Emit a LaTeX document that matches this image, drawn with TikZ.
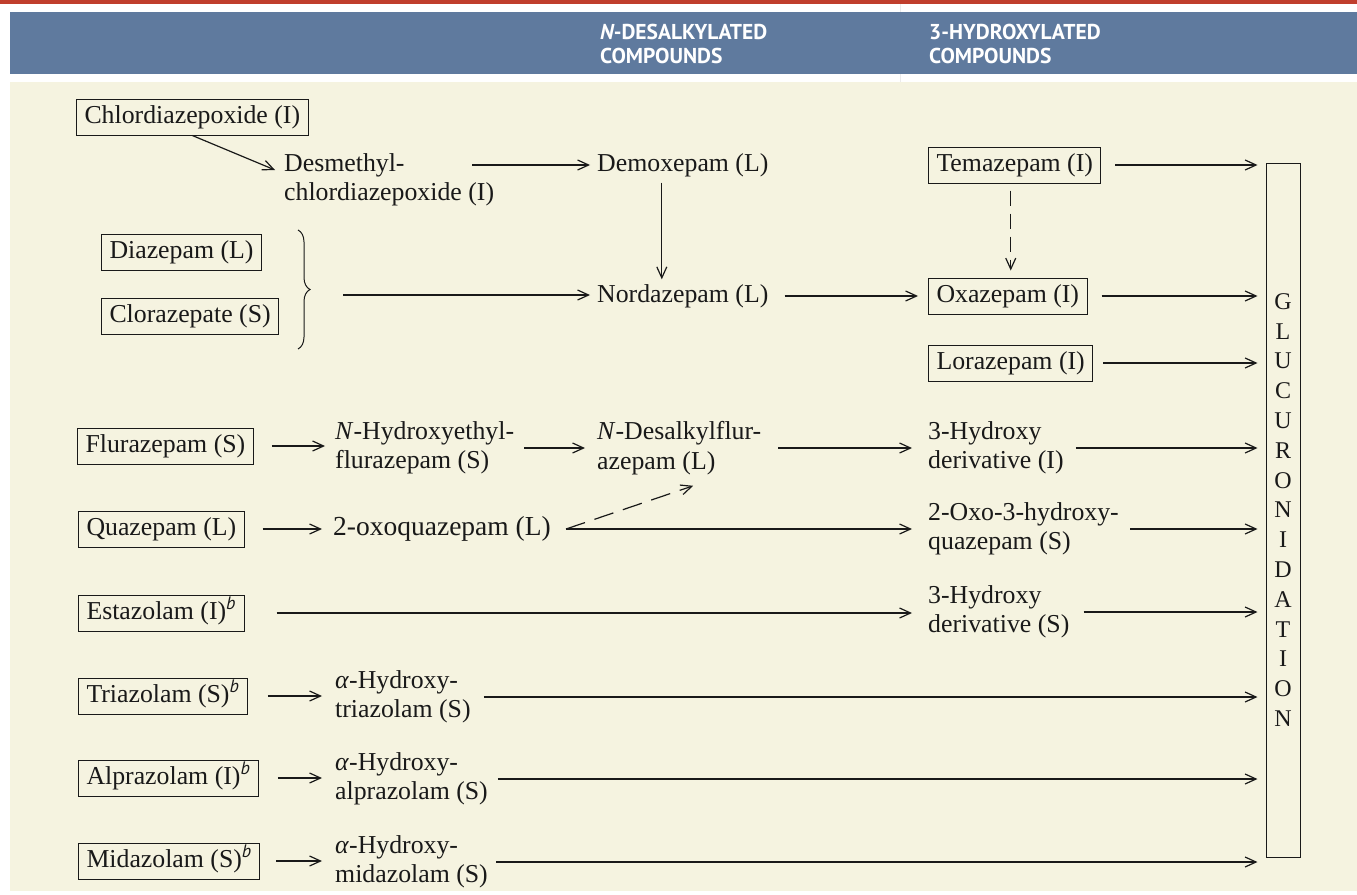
\documentclass[tikz,border=0pt]{standalone}
\usepackage{fontspec}
\setmainfont{Liberation Serif}
\newfontfamily\hdrfont{PT Sans}
\usetikzlibrary{arrows.meta,decorations.pathreplacing,calc}
\definecolor{cream}{RGB}{245,243,224}
\definecolor{hblue}{RGB}{95,122,158}
\definecolor{hred}{RGB}{192,62,45}
\definecolor{ink}{RGB}{25,25,25}
\begin{document}
\begin{tikzpicture}[x=1pt,y=-1pt,
  every node/.style={font=\fontsize{25.8}{29.5}\selectfont, text=ink},
  box/.style={draw=ink, line width=1pt, inner xsep=8pt, inner ysep=6.5pt, text height=17.5pt, text depth=5.5pt, anchor=west},
  lbl/.style={inner sep=0pt, anchor=west, text height=17.5pt, text depth=5.5pt},
  lbl2/.style={inner sep=0pt, anchor=west, align=left},
  arr/.style={draw=ink, line width=1.2pt, -{Straight Barb[length=11pt,width=10pt,line width=1.2pt]}},
  darr/.style={arr, dash pattern=on 15pt off 8pt},
  hdr/.style={font=\hdrfont\bfseries\fontsize{21.5}{23.5}\selectfont, text=white, inner sep=0pt, anchor=north west, align=left}
]
\fill[white] (0,0) rectangle (1357,894);
\useasboundingbox (0,0) rectangle (1357,894);
\fill[hred] (0,0) rectangle (1357,4);
\fill[hblue] (10,12) rectangle (1357,74);
\fill[cream] (10,82) rectangle (1357,891);
\draw[black!8, line width=0.6pt] (900,4) -- (900,12) (900,74) -- (900,82);

\node[hdr] (h1) at (600,24) {{\itshape N}-DESALKYLATED\\COMPOUNDS};
\node[hdr] (h2) at (929,24) {3-HYDROXYLATED\\COMPOUNDS};

\node[box] (chl) at (76,117) {Chlordiazepoxide (I)};
\node[lbl2] (desm) at (284,180) {Desmethyl-\\chlordiazepoxide (I)};
\node[lbl] (demox) at (597,165) {Demoxepam (L)};
\node[box] (diaz) at (101,252) {Diazepam (L)};
\node[box] (cloraz) at (101,316) {Clorazepate (S)};
\node[lbl] (nord) at (597,296) {Nordazepam (L)};
\node[box] (tema) at (928,165) {Temazepam (I)};
\node[box] (oxa) at (928,296) {Oxazepam (I)};
\node[box] (lora) at (928,363) {Lorazepam (I)};
\node[box] (flu) at (77,446) {Flurazepam (S)};
\node[lbl2] (nhe) at (335,448) {\textit{N}-Hydroxyethyl-\\flurazepam (S)};
\node[lbl2] (ndes) at (597,448) {\textit{N}-Desalkylflur-\\azepam (L)};
\node[lbl2] (h3i) at (928,448) {3-Hydroxy\\derivative (I)};
\node[box] (qua) at (78,529) {Quazepam (L)};
\node[lbl, font=\fontsize{27.5}{30}\selectfont] (oxoq) at (333,529) {2-oxoquazepam (L)};
\node[lbl2] (oxo3) at (928,529) {2-Oxo-3-hydroxy-\\quazepam (S)};
\node[box] (esta) at (78,613) {Estazolam (I)\textsuperscript{\hdrfont\itshape b}};
\node[lbl2] (h3s) at (928,612) {3-Hydroxy\\derivative (S)};
\node[box] (tria) at (78,696) {Triazolam (S)\textsuperscript{\hdrfont\itshape b}};
\node[lbl2] (ahT) at (335,697) {\textit{α}-Hydroxy-\\triazolam (S)};
\node[box] (alpra) at (78,778) {Alprazolam (I)\textsuperscript{\hdrfont\itshape b}};
\node[lbl2] (ahA) at (335,779) {\textit{α}-Hydroxy-\\alprazolam (S)};
\node[box] (mida) at (78,861) {Midazolam (S)\textsuperscript{\hdrfont\itshape b}};
\node[lbl2] (ahM) at (335,862) {\textit{α}-Hydroxy-\\midazolam (S)};

\node[draw=ink, line width=1pt, minimum width=34pt, minimum height=694pt, inner sep=0pt, align=center, font=\fontsize{24}{29.8}\selectfont] (gl) at (1283,510) {G\\L\\U\\C\\U\\R\\O\\N\\I\\D\\A\\T\\I\\O\\N};

% brace
\draw[ink, line width=1pt, decorate, decoration={brace, amplitude=12pt}] (298,230) -- (298,349);
\coordinate (brtip) at (310,289);
\coordinate (brstart) at ($(brtip)+(33,6)$);

% arrows
\draw[arr] (chl.south) -- ([shift={(-9pt,10pt)}]desm.west);
\draw[arr, shorten >=7pt] ([xshift=-22pt]desm.east |- demox.west) -- (demox.west);
\draw[arr, shorten <=6pt, shorten >=5pt] ([xshift=-21pt]demox.south) -- ([xshift=-21pt]demox.south |- nord.north);
\draw[arr, shorten >=7pt] (brstart) -- (brstart -| nord.west);
\draw[arr, shorten <=16pt, shorten >=10pt] (nord.east) -- (nord.east -| oxa.west);
\draw[darr, shorten <=7pt, shorten >=7pt] ([xshift=-4pt]tema.south) -- ([xshift=-4pt]tema.south |- oxa.north);

\draw[arr, shorten <=14pt, shorten >=8pt] (tema.east) -- (tema.east -| gl.west);
\draw[arr, shorten <=14pt, shorten >=8pt] (oxa.east) -- (oxa.east -| gl.west);
\draw[arr, shorten <=10pt, shorten >=8pt] (lora.east) -- (lora.east -| gl.west);

\draw[arr, shorten <=18pt, shorten >=10pt] (flu.east) -- (flu.east -| nhe.west);
\draw[arr, shorten <=10pt, shorten >=12pt] (nhe.east) -- (nhe.east -| ndes.west);
\draw[arr, shorten <=17pt, shorten >=16pt] (ndes.east) -- (ndes.east -| h3i.west);
\draw[arr, shorten <=12pt, shorten >=8pt] (h3i.east) -- (h3i.east -| gl.west);

\draw[arr, shorten <=18pt, shorten >=11pt] (qua.east) -- (qua.east -| oxoq.west);
\coordinate (qf) at ($(oxoq.east)+(15,0)$);
\draw[darr, dash pattern=on 20pt off 10pt] (qf) -- ([shift={(14pt,-11pt)}]ndes.south);
\draw[arr, shorten >=16pt] (qf) -- (qf -| oxo3.west);
\draw[arr, shorten <=11pt, shorten >=8pt] (oxo3.east) -- (oxo3.east -| gl.west);

\draw[arr, shorten <=32pt, shorten >=16pt] (esta.east) -- (esta.east -| h3s.west);
\draw[arr, shorten <=14pt, shorten >=8pt] (h3s.east) -- (h3s.east -| gl.west);

\draw[arr, shorten <=20pt, shorten >=13pt] (tria.east) -- (tria.east -| ahT.west);
\draw[arr, shorten <=13pt, shorten >=8pt] (ahT.east) -- (ahT.east -| gl.west);
\draw[arr, shorten <=19pt, shorten >=13pt] (alpra.east) -- (alpra.east -| ahA.west);
\draw[arr, shorten <=10pt, shorten >=8pt] (ahA.east) -- (ahA.east -| gl.west);
\draw[arr, shorten <=16pt, shorten >=13pt] (mida.east) -- (mida.east -| ahM.west);
\draw[arr, shorten <=8pt, shorten >=8pt] (ahM.east) -- (ahM.east -| gl.west);
\end{tikzpicture}
\end{document}
